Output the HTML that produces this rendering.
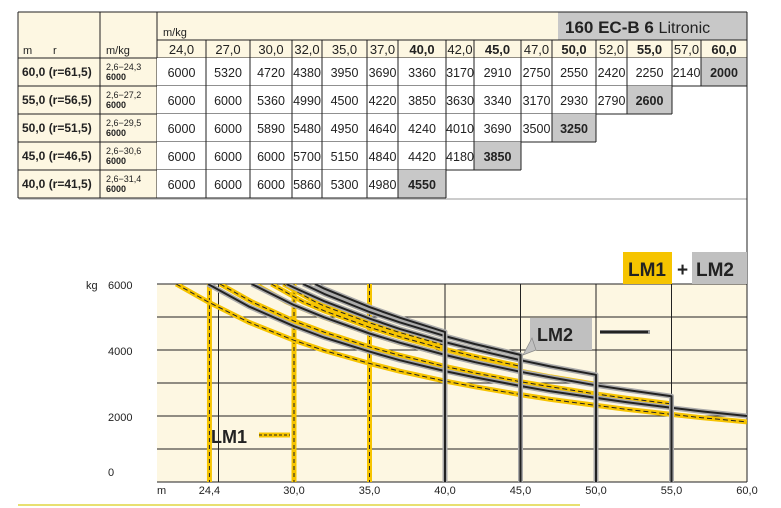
<!DOCTYPE html>
<html><head><meta charset="utf-8"><style>
body{margin:0;background:#fff;width:781px;height:508px;overflow:hidden;font-family:"Liberation Sans",sans-serif}
svg{position:absolute;left:0;top:0}
</style></head><body>
<svg id="s" width="781" height="508" xmlns="http://www.w3.org/2000/svg" font-family="Liberation Sans, sans-serif">
<rect x="18" y="12" width="729" height="46" fill="#fdf7e2"/>
<rect x="18" y="58" width="139" height="140" fill="#fdf7e2"/>
<rect x="558" y="12" width="189" height="28" fill="#c8c8c8"/>
<text x="565" y="33" font-size="17" font-weight="bold" fill="#222">160 EC-B 6 <tspan font-weight="normal" font-size="16">Litronic</tspan></text>
<rect x="19" y="198" width="728" height="2" fill="#ccc"/>
<g id="tbl"></g>
<rect x="157" y="284" width="590" height="198" fill="#fdf7e2"/>
<g id="grid"></g>
<g id="curves"></g>
<rect x="623" y="252" width="49" height="32" fill="#f6c400"/>
<text x="628" y="276" font-size="19" font-weight="bold" fill="#222">LM1</text>
<text x="677" y="276" font-size="19" font-weight="bold" fill="#222">+</text>
<rect x="692" y="252" width="55" height="32" fill="#c0c0c0"/>
<text x="696" y="276" font-size="19" font-weight="bold" fill="#222">LM2</text>
<rect x="530" y="318" width="62" height="32" fill="#c0c0c0"/>
<text x="537" y="341" font-size="18" font-weight="bold" fill="#222">LM2</text>
<path d="M523 355 L532 338 L536 350 Z" fill="#c0c0c0" stroke="#888" stroke-width="0.7"/>
<line x1="600" y1="332" x2="650" y2="332" stroke="#999" stroke-width="4"/>
<line x1="600" y1="332" x2="648" y2="332" stroke="#222" stroke-width="2.5"/>
<text x="211" y="443" font-size="18" font-weight="bold" fill="#222">LM1</text>
<line x1="259" y1="435" x2="290" y2="435" stroke="#f6c400" stroke-width="5"/>
<line x1="259" y1="435" x2="290" y2="435" stroke="#222" stroke-width="1" stroke-dasharray="3,2"/>
<text x="86" y="289" font-size="11" fill="#222">kg</text>
<text x="108" y="289" font-size="11" fill="#222">6000</text>
<text x="108" y="355" font-size="11" fill="#222">4000</text>
<text x="108" y="421" font-size="11" fill="#222">2000</text>
<text x="108" y="476" font-size="11" fill="#222">0</text>
<text x="157" y="494" font-size="11" fill="#222">m</text>
<line x1="18" y1="505" x2="580" y2="505" stroke="#e8e070" stroke-width="2"/>
</svg>
<script>
const NS="http://www.w3.org/2000/svg";
function el(p,t,a,txt){const e=document.createElementNS(NS,t);for(const k in a)e.setAttribute(k,a[k]);if(txt!==undefined)e.textContent=txt;document.getElementById(p).appendChild(e);return e;}
const cols=[157,206,250,292,322,367,398,446,474,521,552,596,627,672,701,747];
const hdr=["24,0","27,0","30,0","32,0","35,0","37,0","40,0","42,0","45,0","47,0","50,0","52,0","55,0","57,0","60,0"];
const bold=[0,0,0,0,0,0,1,0,1,0,1,0,1,0,1];
const rows=[["60,0 (r=61,5)","2,6\u221224,3",[6000,5320,4720,4380,3950,3690,3360,3170,2910,2750,2550,2420,2250,2140,2000]],
["55,0 (r=56,5)","2,6\u221227,2",[6000,6000,5360,4990,4500,4220,3850,3630,3340,3170,2930,2790,2600]],
["50,0 (r=51,5)","2,6\u221229,5",[6000,6000,5890,5480,4950,4640,4240,4010,3690,3500,3250]],
["45,0 (r=46,5)","2,6\u221230,6",[6000,6000,6000,5700,5150,4840,4420,4180,3850]],
["40,0 (r=41,5)","2,6\u221231,4",[6000,6000,6000,5860,5300,4980,4550]]];
const L="#222";
el("tbl","line",{x1:18,y1:12,x2:747,y2:12,stroke:L});
el("tbl","line",{x1:18,y1:12,x2:18,y2:198,stroke:L});
el("tbl","line",{x1:747,y1:12,x2:747,y2:482,stroke:L});
el("tbl","line",{x1:100,y1:12,x2:100,y2:198,stroke:L});
el("tbl","line",{x1:157,y1:12,x2:157,y2:198,stroke:L});
el("tbl","line",{x1:157,y1:40,x2:747,y2:40,stroke:L});
el("tbl","text",{x:163,y:36,"font-size":11,fill:L},"m/kg");
el("tbl","text",{x:23,y:54,"font-size":11,fill:L},"m");
el("tbl","text",{x:53,y:54,"font-size":11,fill:L},"r");
el("tbl","text",{x:106,y:54,"font-size":11,fill:L},"m/kg");
for(let i=0;i<15;i++){el("tbl","line",{x1:cols[i],y1:40,x2:cols[i],y2:58,stroke:L});
 el("tbl","text",{x:(cols[i]+cols[i+1])/2,y:54,"font-size":13,"text-anchor":"middle","font-weight":bold[i]?"bold":"normal",fill:L},hdr[i]);}
el("tbl","line",{x1:18,y1:58,x2:747,y2:58,stroke:L});
rows.forEach((r,ri)=>{const y0=58+ri*28;const n=r[2].length;
 el("tbl","rect",{x:157,y:y0,width:cols[n]-157,height:28,fill:"#fff"});
 el("tbl","rect",{x:cols[n-1],y:y0,width:cols[n]-cols[n-1],height:28,fill:"#c8c8c8"});
 el("tbl","text",{x:22,y:y0+18,"font-size":12,"font-weight":"bold",fill:L},r[0]);
 el("tbl","text",{x:106,y:y0+12,"font-size":9,fill:L},r[1]);
 el("tbl","text",{x:106,y:y0+22,"font-size":9,"font-weight":"bold",fill:L},"6000");
 for(let i=0;i<n;i++){el("tbl","text",{x:(cols[i]+cols[i+1])/2,y:y0+19,"font-size":12.5,"text-anchor":"middle","font-weight":i==n-1?"bold":"normal",fill:L},String(r[2][i]));
  el("tbl","line",{x1:cols[i+1],y1:y0,x2:cols[i+1],y2:y0+28,stroke:L});}
 el("tbl","line",{x1:18,y1:y0+28,x2:cols[n],y2:y0+28,stroke:L});
});
const X=m=>445+(m-40)*15.1, Y=k=>482-k*0.033;
for(let k=0;k<=6;k++){const y=284+k*33;el("grid","line",{x1:157,y1:y,x2:747,y2:y,stroke:L,"stroke-width":1});}
[25,30,35,40,45,50,55,60].forEach(m=>el("grid","line",{x1:X(m),y1:284,x2:X(m),y2:482,stroke:L}));
[["24,4",24.4],["30,0",30],["35,0",35],["40,0",40],["45,0",45],["50,0",50],["55,0",55],["60,0",60]].forEach(a=>el("grid","text",{x:X(a[1]),y:494,"font-size":11,"text-anchor":"middle",fill:L},a[0]));
const rad=[24,27,30,32,35,37,40,42,45,47,50,52,55,57,60];
const jibs=[[60,24.3,rows[0][2]],[55,27.2,rows[1][2]],[50,29.5,rows[2][2]],[45,30.6,rows[3][2]],[40,31.4,rows[4][2]]];
function pts(j,f){const p=[];if(f<1)p.push([j[1]-2.1,6000]);p.push([j[1],6000*f]);
 for(let i=0;i<j[2].length;i++){if(rad[i]>j[1])p.push([rad[i],j[2][i]*f]);}
 return p;}
function path(p){return p.map((q,i)=>(i?"L":"M")+X(q[0]).toFixed(1)+" "+Y(q[1]).toFixed(1)).join(" ");}
const clip=el("curves","clipPath",{id:"c"});const cr=document.createElementNS(NS,"rect");["x","y","width","height"].forEach((k,i)=>cr.setAttribute(k,[157,284,590,200][i]));clip.appendChild(cr);
const g=el("curves","g",{"clip-path":"url(#c)"});g.id="cg";
[24.4,30,35].forEach(m=>{el("cg","line",{x1:X(m),y1:284,x2:X(m),y2:482,stroke:"#f6c400","stroke-width":5});el("cg","line",{x1:X(m),y1:284,x2:X(m),y2:482,stroke:L,"stroke-width":1,"stroke-dasharray":"4,3"});});
jibs.forEach(j=>{const d=path(pts(j,0.91));
 el("cg","path",{d:d,fill:"none",stroke:"#f6c400","stroke-width":5,"stroke-linejoin":"round"});
 el("cg","path",{d:d,fill:"none",stroke:L,"stroke-width":1,"stroke-dasharray":"5,3"});});
jibs.forEach(j=>{const p=pts(j,1);const last=p[p.length-1];let d=path(p);if(j[0]<60)d+=" L"+X(last[0]).toFixed(1)+" 482";
 el("cg","path",{d:d,fill:"none",stroke:"#aaa","stroke-width":5,"stroke-linejoin":"round"});
 el("cg","path",{d:d,fill:"none",stroke:L,"stroke-width":2,"stroke-linejoin":"round"});});
</script>
</body></html>
